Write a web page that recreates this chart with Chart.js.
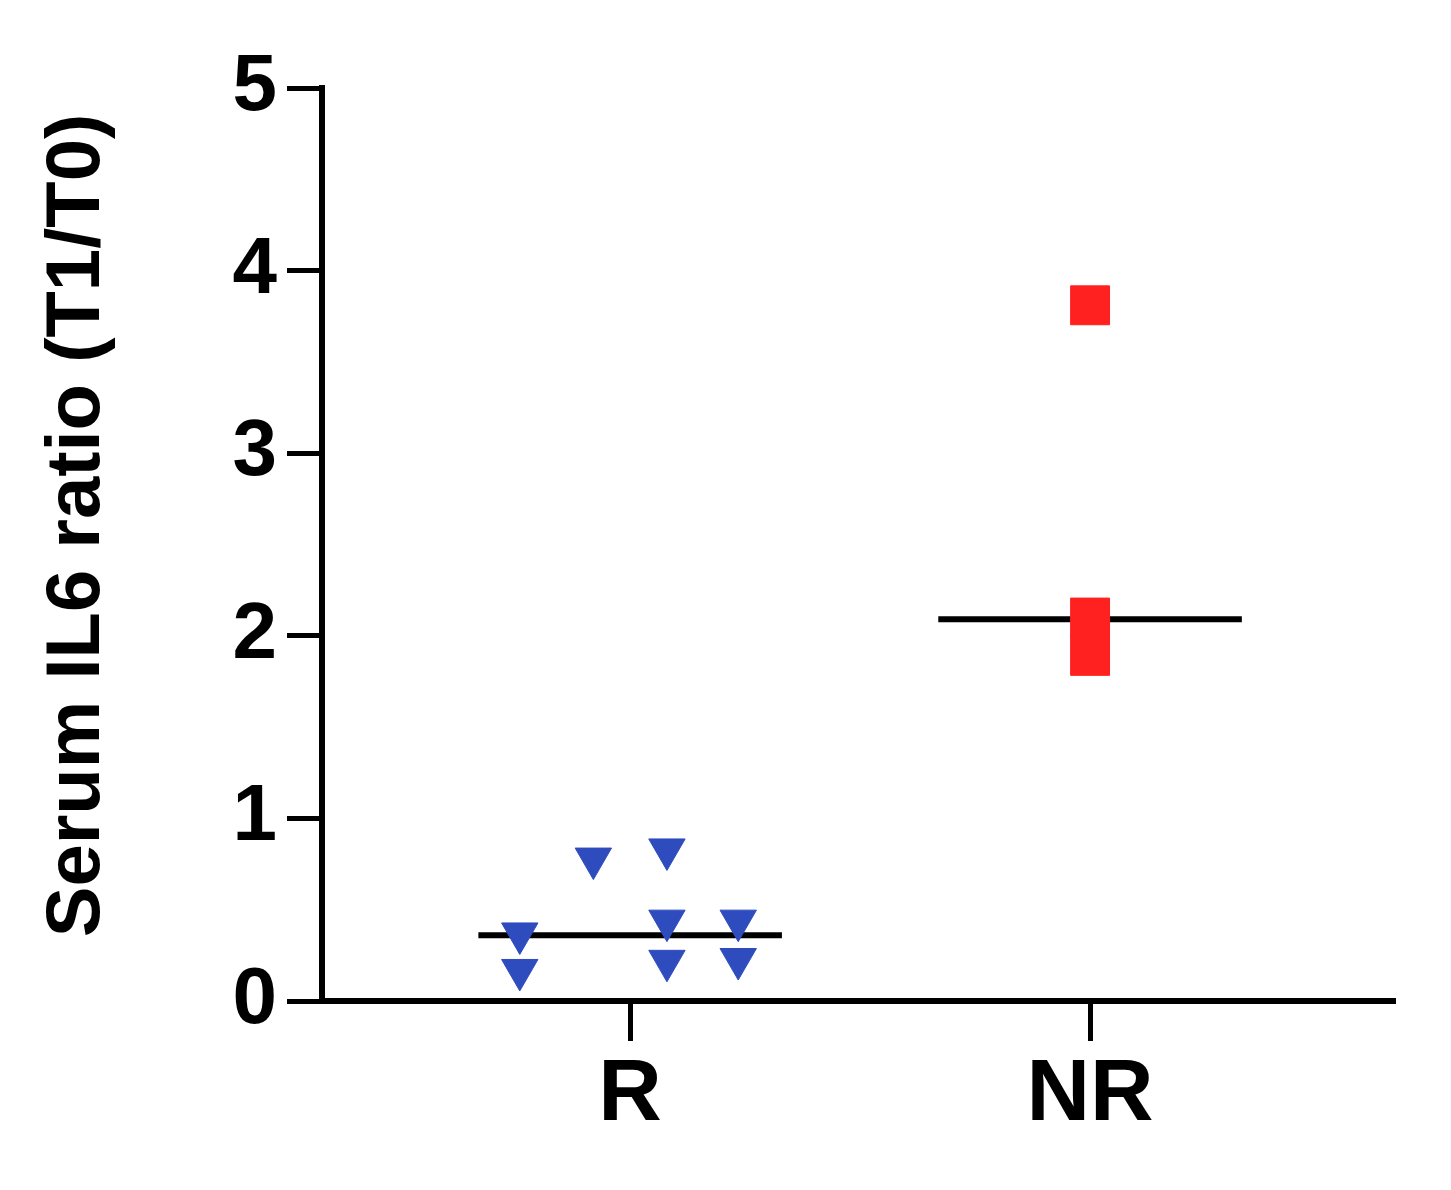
<!DOCTYPE html>
<html>
<head>
<meta charset="utf-8">
<script src="https://cdn.jsdelivr.net/npm/chart.js@4"></script>
<style>
  body { margin: 0; background: #fff; }
</style>
</head>
<body>
<canvas id="il6Chart" width="1451" height="1190"></canvas>
<script>
//======================== data ===============================
const groups = ["R", "NR"]; // x categories (x = 1, 2)
const yTicks = [0, 1, 2, 3, 4, 5];
// responders (blue triangles): x jitter around 1, ratio values
const respX = [0.92, 1.08, 0.76, 0.76, 1.08, 1.08, 1.235, 1.235];
const respY = [0.78, 0.83, 0.37, 0.17, 0.44, 0.22, 0.44, 0.23];
// non responders (red squares)
const nonRespX = [2, 2, 2];
const nonRespY = [3.81, 2.1, 1.89];
// median line of each group
const medians = [0.36, 2.09];
const medianHalfWidth = 0.33;

const font = "'Liberation Sans', Arial, sans-serif";

// build point lists from the arrays
const respPoints = respX.map((x, i) => ({ x: x, y: respY[i] }));
const nonRespPoints = nonRespX.map((x, i) => ({ x: x, y: nonRespY[i] }));
const medianSets = medians.map((m, i) => ({
  label: "median " + groups[i],
  data: [
    { x: i + 1 - medianHalfWidth, y: m },
    { x: i + 1 + medianHalfWidth, y: m },
  ],
  showLine: true,
  borderColor: "#000",
  borderWidth: 6,
  pointRadius: 0,
  order: 1,
}));

const config = {
  type: "scatter",
  data: {
    datasets: [
      {
        label: "R",
        data: respPoints,
        pointStyle: "triangle",
        rotation: 180,
        pointRadius: 21,
        backgroundColor: "rgb(46, 76, 190)",
        borderColor: "rgb(46, 76, 190)",
        borderWidth: 1,
        order: 0,
      },
      {
        label: "NR",
        data: nonRespPoints,
        pointStyle: "rect",
        pointRadius: 27.5,
        backgroundColor: "rgb(255, 32, 32)",
        borderColor: "rgb(255, 32, 32)",
        borderWidth: 1,
        order: 0,
      },
      ...medianSets,
    ],
  },
  options: {
    responsive: false,
    animation: false,
    devicePixelRatio: 1,
    layout: {
      padding: { left: 0, top: 88, right: 56, bottom: 0 },
    },
    plugins: {
      legend: { display: false },
      tooltip: { enabled: false },
    },
    scales: {
      x: {
        type: "linear",
        min: 0.33,
        max: 2.663,
        afterBuildTicks: (axis) => {
          axis.ticks = groups.map((g, i) => ({ value: i + 1 }));
        },
        afterFit: (axis) => {
          axis.height = 189;
        },
        ticks: {
          color: "#000",
          padding: 2,
          font: { family: font, size: 88, weight: "bold" },
          callback: (value) => groups[value - 1],
        },
        grid: {
          drawOnChartArea: false,
          tickLength: 40,
          tickWidth: 5,
          tickColor: "#000",
        },
        border: { display: true, color: "#000", width: 6 },
      },
      y: {
        min: 0,
        max: 5,
        afterBuildTicks: (axis) => {
          axis.ticks = yTicks.map((v) => ({ value: v }));
        },
        afterFit: (axis) => {
          axis.width = 322;
        },
        ticks: {
          color: "#000",
          padding: 10,
          font: { family: font, size: 80, weight: "bold" },
        },
        grid: {
          drawOnChartArea: false,
          tickLength: 35,
          tickWidth: 5,
          tickColor: "#000",
        },
        border: { display: true, color: "#000", width: 6 },
        title: {
          display: true,
          // leading en space nudges the centred title up a little, as in the figure
          text: "\u2002Serum IL6 ratio (T1/T0)",
          color: "#000",
          padding: { top: 32, bottom: 0 },
          font: { family: font, size: 76, weight: "bold" },
        },
      },
    },
  },
};

let il6Chart = new Chart(document.getElementById("il6Chart"), config);
</script>
</body>
</html>
